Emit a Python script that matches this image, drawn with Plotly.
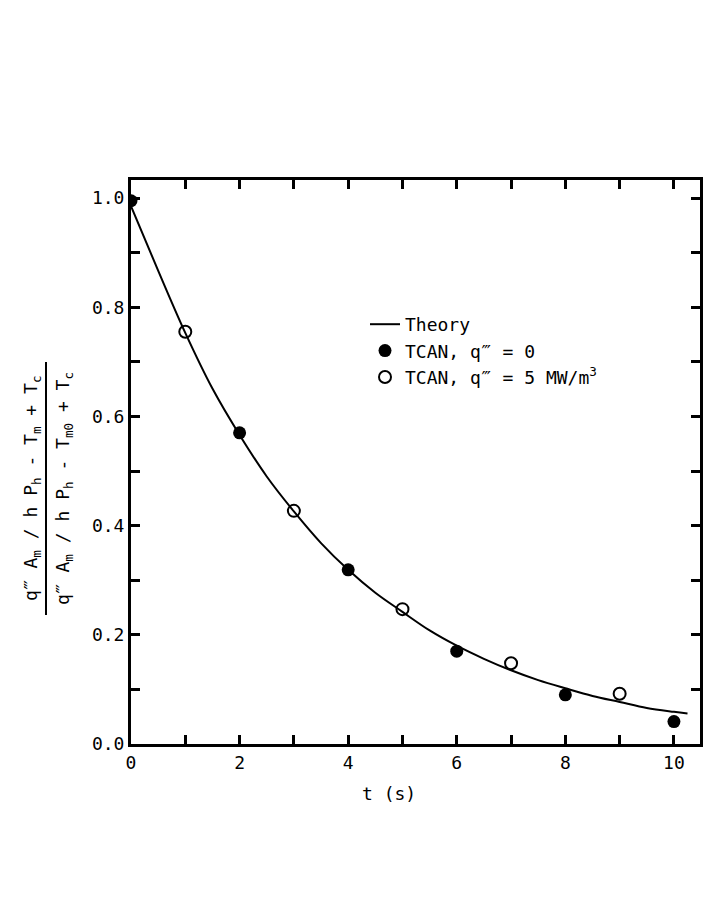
import plotly.graph_objects as go

# Theory curve
theory_t = [0.0, 0.5, 1.0, 1.5, 2.0, 2.5, 3.0, 3.5, 4.0, 4.5, 5.0, 5.5, 6.0, 6.5, 7.0, 7.5, 8.0, 8.5, 9.0, 9.5, 10.0, 10.25]
theory_y = [0.985, 0.867, 0.753, 0.651, 0.566, 0.490, 0.426, 0.368, 0.319, 0.277, 0.242, 0.208, 0.180, 0.156, 0.135, 0.117, 0.102, 0.088, 0.077, 0.066, 0.059, 0.056]

# TCAN, q''' = 0 (filled)
q0_t = [0, 2, 4, 6, 8, 10]
q0_y = [0.995, 0.570, 0.319, 0.170, 0.090, 0.041]

# TCAN, q''' = 5 MW/m3 (open)
q5_t = [1, 3, 5, 7, 9]
q5_y = [0.755, 0.427, 0.247, 0.148, 0.092]

x_tickvals = [0, 2, 4, 6, 8, 10]
y_tickvals = [0.0, 0.2, 0.4, 0.6, 0.8, 1.0]
y_ticktext = ["0.0", "0.2", "0.4", "0.6", "0.8", "1.0"]

FONT = "DejaVu Sans Mono"
W, H = 727, 903
ML, MR, MT, MB = 131, 27, 180, 159
PW = W - ML - MR
PH = H - MT - MB

def px2paper_x(px):
    return (px - ML) / PW

def px2paper_y(py):
    return (H - MB - py) / PH

fig = go.Figure()
fig.add_trace(go.Scatter(x=theory_t, y=theory_y, mode="lines", name="Theory",
                         line=dict(color="black", width=2, shape="spline")))
fig.add_trace(go.Scatter(x=q0_t, y=q0_y, mode="markers", name="TCAN, q‴ = 0",
                         marker=dict(symbol="circle", size=13, color="black")))
fig.add_trace(go.Scatter(x=q5_t, y=q5_y, mode="markers", name="TCAN, q‴ = 5 MW/m<sup>3</sup>",
                         marker=dict(symbol="circle-open", size=12, color="black",
                                     line=dict(width=2, color="black"))))

axis_common = dict(showgrid=False, zeroline=False, showline=True, linecolor="black",
                   linewidth=3, ticks="inside", tickcolor="black", tickwidth=2.5,
                   mirror="ticks", tickfont=dict(family=FONT, size=18, color="black"))

fig.update_xaxes(range=[0, 10.48], tickvals=x_tickvals, ticklen=9,
                 minor=dict(dtick=1, ticks="inside", ticklen=9, tickwidth=2.5, tickcolor="black"),
                 **axis_common)
fig.update_yaxes(range=[0, 1.033], tickvals=y_tickvals, ticktext=y_ticktext, ticklen=9,
                 minor=dict(dtick=0.1, ticks="inside", ticklen=9, tickwidth=2.5, tickcolor="black"),
                 **axis_common)

ann_font = dict(family=FONT, size=18, color="black")
fig.add_annotation(x=4.75, xref="x", y=px2paper_y(793), yref="paper", text="t (s)",
                   showarrow=False, font=ann_font, xanchor="center", yanchor="middle")

frac_mid = px2paper_y(489)
fig.add_annotation(x=px2paper_x(32), xref="paper", y=frac_mid, yref="paper",
                   text="q‴ A<sub>m</sub> / h P<sub>h</sub> - T<sub>m</sub> + T<sub>c</sub>",
                   textangle=-90, showarrow=False, font=ann_font,
                   xanchor="center", yanchor="middle")
fig.add_annotation(x=px2paper_x(64), xref="paper", y=frac_mid, yref="paper",
                   text="q‴ A<sub>m</sub> / h P<sub>h</sub> - T<sub>m0</sub> + T<sub>c</sub>",
                   textangle=-90, showarrow=False, font=ann_font,
                   xanchor="center", yanchor="middle")
fig.add_shape(type="line", xref="paper", yref="paper",
              x0=px2paper_x(46), x1=px2paper_x(46),
              y0=px2paper_y(615), y1=px2paper_y(362),
              line=dict(color="black", width=2))

fig.update_layout(
    width=W, height=H,
    margin=dict(l=ML, r=MR, t=MT, b=MB),
    paper_bgcolor="white", plot_bgcolor="white",
    font=dict(family=FONT, size=18, color="black"),
    showlegend=True,
    legend=dict(x=px2paper_x(365), y=px2paper_y(306), xanchor="left", yanchor="top",
                bgcolor="rgba(0,0,0,0)", font=dict(family=FONT, size=18, color="black"),
                tracegroupgap=0, itemwidth=30),
)

fig.write_html("out.html")
